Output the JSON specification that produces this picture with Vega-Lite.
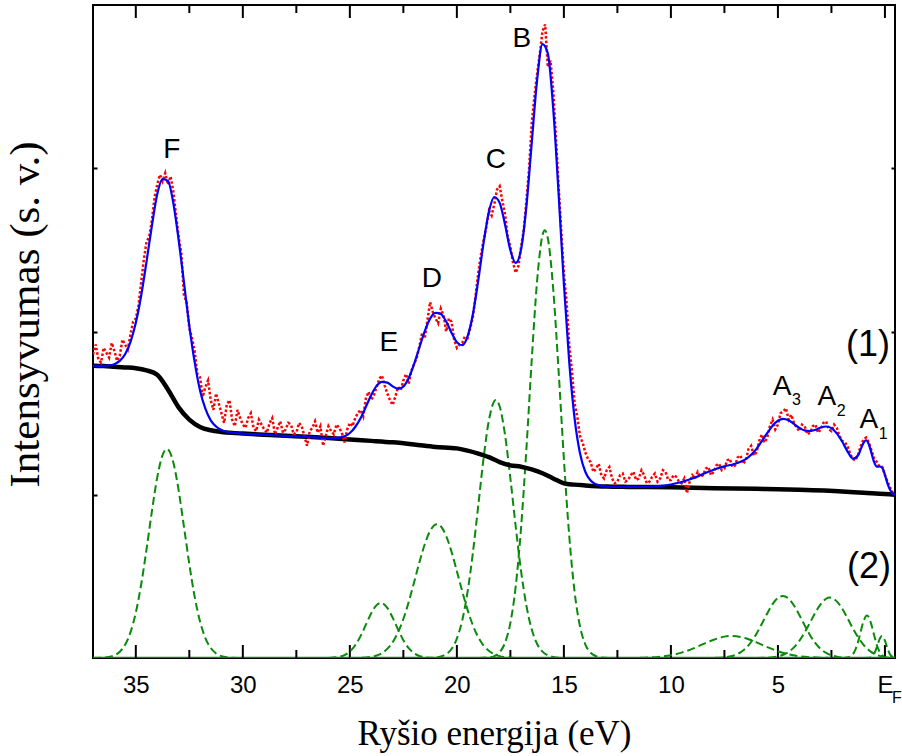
{
"$schema": "https://vega.github.io/schema/vega-lite/v6.json",
"width": 802, "height": 653,
"autosize": {"type": "none"},
"padding": {"left": 93, "top": 5, "right": 7, "bottom": 98},
"background": "white",
"config": {"view": {"stroke": "black", "strokeWidth": 2}},
"datasets": {
"major": [{"E":35},{"E":30},{"E":25},{"E":20},{"E":15},{"E":10},{"E":5},{"E":0}],
"minor": [{"E":32.5},{"E":27.5},{"E":22.5},{"E":17.5},{"E":12.5},{"E":7.5},{"E":2.5}],
"bg": [
{"E":37,"v":1.790},{"E":36.5,"v":1.788},{"E":36,"v":1.784},{"E":35.5,"v":1.780},{"E":35,"v":1.775},{"E":34.5,"v":1.762},{"E":34,"v":1.735},{"E":33.5,"v":1.645},{"E":33,"v":1.535},{"E":32.5,"v":1.46},{"E":32,"v":1.415},{"E":31.5,"v":1.395},{"E":31,"v":1.385},{"E":30.5,"v":1.379},{"E":30,"v":1.375},{"E":29,"v":1.368},{"E":28,"v":1.361},{"E":27,"v":1.355},{"E":26,"v":1.347},{"E":25,"v":1.338},{"E":24,"v":1.330},{"E":23,"v":1.321},{"E":22,"v":1.308},{"E":21,"v":1.293},{"E":20,"v":1.284},{"E":19.5,"v":1.270},{"E":19,"v":1.252},{"E":18.5,"v":1.230},{"E":18,"v":1.200},{"E":17.5,"v":1.180},{"E":17,"v":1.172},{"E":16.5,"v":1.155},{"E":16,"v":1.132},{"E":15.5,"v":1.100},{"E":15,"v":1.070},{"E":14.5,"v":1.062},{"E":14,"v":1.057},{"E":13,"v":1.050},{"E":12,"v":1.048},{"E":10,"v":1.046},{"E":8,"v":1.040},{"E":6,"v":1.036},{"E":4,"v":1.030},{"E":2,"v":1.020},{"E":1,"v":1.012},{"E":0,"v":1.005},{"E":-0.47,"v":1.000}
],
"fit": [
{"E":37,"v":1.790},{"E":36.75,"v":1.789},{"E":36.5,"v":1.790},{"E":36.25,"v":1.792},{"E":36,"v":1.800},{"E":35.75,"v":1.820},{"E":35.5,"v":1.861},{"E":35.25,"v":1.935},{"E":35,"v":2.053},{"E":34.75,"v":2.219},{"E":34.5,"v":2.427},{"E":34.25,"v":2.646},{"E":34,"v":2.840},{"E":33.75,"v":2.933},{"E":33.5,"v":2.923},{"E":33.25,"v":2.789},{"E":33,"v":2.563},{"E":32.75,"v":2.301},{"E":32.5,"v":2.035},{"E":32.25,"v":1.812},{"E":32,"v":1.639},{"E":31.75,"v":1.527},{"E":31.5,"v":1.456},{"E":31.25,"v":1.418},{"E":31,"v":1.396},{"E":30.75,"v":1.386},{"E":30.5,"v":1.380},{"E":30,"v":1.375},{"E":29,"v":1.368},{"E":28,"v":1.361},{"E":27,"v":1.355},{"E":26,"v":1.347},{"E":25.75,"v":1.347},{"E":25.5,"v":1.350},{"E":25.25,"v":1.358},{"E":25,"v":1.378},{"E":24.75,"v":1.415},{"E":24.5,"v":1.469},{"E":24.25,"v":1.539},{"E":24,"v":1.611},{"E":23.75,"v":1.667},{"E":23.5,"v":1.692},{"E":23.25,"v":1.687},{"E":23,"v":1.664},{"E":22.75,"v":1.650},{"E":22.5,"v":1.663},{"E":22.25,"v":1.715},{"E":22,"v":1.800},{"E":21.75,"v":1.902},{"E":21.5,"v":2.002},{"E":21.25,"v":2.079},{"E":21,"v":2.114},{"E":20.75,"v":2.107},{"E":20.5,"v":2.061},{"E":20.25,"v":1.993},{"E":20,"v":1.935},{"E":19.75,"v":1.916},{"E":19.5,"v":1.970},{"E":19.25,"v":2.107},{"E":19,"v":2.313},{"E":18.75,"v":2.544},{"E":18.5,"v":2.735},{"E":18.25,"v":2.824},{"E":18,"v":2.788},{"E":17.75,"v":2.655},{"E":17.5,"v":2.498},{"E":17.25,"v":2.420},{"E":17,"v":2.503},{"E":16.75,"v":2.768},{"E":16.5,"v":3.159},{"E":16.25,"v":3.542},{"E":16,"v":3.760},{"E":15.75,"v":3.703},{"E":15.5,"v":3.368},{"E":15.25,"v":2.852},{"E":15,"v":2.291},{"E":14.75,"v":1.814},{"E":14.5,"v":1.468},{"E":14.25,"v":1.256},{"E":14,"v":1.141},{"E":13.75,"v":1.087},{"E":13.5,"v":1.064},{"E":13.25,"v":1.055},{"E":13,"v":1.050},{"E":12,"v":1.048},{"E":11,"v":1.050},{"E":10.5,"v":1.054},{"E":10,"v":1.063},{"E":9.5,"v":1.078},{"E":9,"v":1.099},{"E":8.5,"v":1.127},{"E":8,"v":1.153},{"E":7.5,"v":1.174},{"E":7,"v":1.190},{"E":6.75,"v":1.202},{"E":6.5,"v":1.218},{"E":6.25,"v":1.245},{"E":6,"v":1.281},{"E":5.75,"v":1.329},{"E":5.5,"v":1.377},{"E":5.25,"v":1.423},{"E":5,"v":1.454},{"E":4.75,"v":1.465},{"E":4.5,"v":1.456},{"E":4.25,"v":1.434},{"E":4,"v":1.410},{"E":3.75,"v":1.394},{"E":3.5,"v":1.390},{"E":3.25,"v":1.398},{"E":3,"v":1.412},{"E":2.75,"v":1.418},{"E":2.5,"v":1.408},{"E":2.25,"v":1.376},{"E":2,"v":1.326},{"E":1.75,"v":1.266},{"E":1.5,"v":1.221},{"E":1.25,"v":1.242},{"E":1.125,"v":1.281},{"E":1,"v":1.318},{"E":0.875,"v":1.334},{"E":0.75,"v":1.308},{"E":0.625,"v":1.253},{"E":0.5,"v":1.198},{"E":0.375,"v":1.172},{"E":0.25,"v":1.173},{"E":0.125,"v":1.165},{"E":0,"v":1.122},{"E":-0.125,"v":1.066},{"E":-0.25,"v":1.027},{"E":-0.375,"v":1.006},{"E":-0.47,"v":1.002}
],
"exp": [
{"E":37,"v":1.86},{"E":36.875,"v":1.92},{"E":36.75,"v":1.83},{"E":36.625,"v":1.81},{"E":36.5,"v":1.90},{"E":36.375,"v":1.87},{"E":36.25,"v":1.84},{"E":36.125,"v":1.93},{"E":36,"v":1.88},{"E":35.875,"v":1.82},{"E":35.75,"v":1.85},{"E":35.625,"v":1.95},{"E":35.5,"v":1.92},{"E":35.375,"v":1.89},{"E":35.25,"v":1.98},{"E":35.125,"v":2.06},{"E":35,"v":2.08},{"E":34.875,"v":2.16},{"E":34.75,"v":2.30},{"E":34.625,"v":2.44},{"E":34.5,"v":2.55},{"E":34.375,"v":2.58},{"E":34.25,"v":2.68},{"E":34.125,"v":2.82},{"E":34,"v":2.90},{"E":33.875,"v":2.96},{"E":33.75,"v":2.92},{"E":33.625,"v":2.97},{"E":33.5,"v":2.90},{"E":33.375,"v":2.95},{"E":33.25,"v":2.86},{"E":33.125,"v":2.72},{"E":33,"v":2.58},{"E":32.875,"v":2.48},{"E":32.75,"v":2.22},{"E":32.625,"v":2.18},{"E":32.5,"v":2.02},{"E":32.375,"v":1.96},{"E":32.25,"v":1.88},{"E":32.125,"v":1.74},{"E":32,"v":1.72},{"E":31.875,"v":1.60},{"E":31.75,"v":1.66},{"E":31.625,"v":1.70},{"E":31.5,"v":1.58},{"E":31.375,"v":1.52},{"E":31.25,"v":1.62},{"E":31.125,"v":1.56},{"E":31,"v":1.50},{"E":30.875,"v":1.44},{"E":30.75,"v":1.55},{"E":30.625,"v":1.58},{"E":30.5,"v":1.46},{"E":30.375,"v":1.42},{"E":30.25,"v":1.52},{"E":30.125,"v":1.47},{"E":30,"v":1.43},{"E":29.875,"v":1.41},{"E":29.75,"v":1.47},{"E":29.625,"v":1.50},{"E":29.5,"v":1.41},{"E":29.375,"v":1.39},{"E":29.25,"v":1.46},{"E":29.125,"v":1.43},{"E":29,"v":1.40},{"E":28.875,"v":1.38},{"E":28.75,"v":1.44},{"E":28.625,"v":1.47},{"E":28.5,"v":1.37},{"E":28.375,"v":1.41},{"E":28.25,"v":1.45},{"E":28.125,"v":1.38},{"E":28,"v":1.40},{"E":27.875,"v":1.44},{"E":27.75,"v":1.43},{"E":27.625,"v":1.37},{"E":27.5,"v":1.38},{"E":27.375,"v":1.44},{"E":27.25,"v":1.42},{"E":27.125,"v":1.36},{"E":27,"v":1.30},{"E":26.875,"v":1.39},{"E":26.75,"v":1.41},{"E":26.625,"v":1.45},{"E":26.5,"v":1.38},{"E":26.375,"v":1.42},{"E":26.25,"v":1.30},{"E":26.125,"v":1.36},{"E":26,"v":1.42},{"E":25.875,"v":1.39},{"E":25.75,"v":1.37},{"E":25.625,"v":1.43},{"E":25.5,"v":1.41},{"E":25.375,"v":1.38},{"E":25.25,"v":1.32},{"E":25.125,"v":1.40},{"E":25,"v":1.44},{"E":24.875,"v":1.42},{"E":24.75,"v":1.47},{"E":24.625,"v":1.50},{"E":24.5,"v":1.52},{"E":24.375,"v":1.48},{"E":24.25,"v":1.59},{"E":24.125,"v":1.63},{"E":24,"v":1.58},{"E":23.875,"v":1.61},{"E":23.75,"v":1.66},{"E":23.625,"v":1.71},{"E":23.5,"v":1.73},{"E":23.375,"v":1.67},{"E":23.25,"v":1.62},{"E":23.125,"v":1.58},{"E":23,"v":1.55},{"E":22.875,"v":1.60},{"E":22.75,"v":1.66},{"E":22.625,"v":1.64},{"E":22.5,"v":1.70},{"E":22.375,"v":1.74},{"E":22.25,"v":1.68},{"E":22.125,"v":1.76},{"E":22,"v":1.80},{"E":21.875,"v":1.84},{"E":21.75,"v":1.91},{"E":21.625,"v":1.99},{"E":21.5,"v":1.96},{"E":21.375,"v":2.07},{"E":21.25,"v":2.18},{"E":21.125,"v":2.12},{"E":21,"v":2.08},{"E":20.875,"v":2.05},{"E":20.75,"v":2.14},{"E":20.625,"v":2.10},{"E":20.5,"v":2.00},{"E":20.375,"v":2.08},{"E":20.25,"v":2.06},{"E":20.125,"v":1.95},{"E":20,"v":1.90},{"E":19.875,"v":1.92},{"E":19.75,"v":1.93},{"E":19.625,"v":1.97},{"E":19.5,"v":1.96},{"E":19.375,"v":2.02},{"E":19.25,"v":2.09},{"E":19.125,"v":2.22},{"E":19,"v":2.36},{"E":18.875,"v":2.47},{"E":18.75,"v":2.56},{"E":18.625,"v":2.64},{"E":18.5,"v":2.74},{"E":18.375,"v":2.71},{"E":18.25,"v":2.78},{"E":18.125,"v":2.87},{"E":18,"v":2.89},{"E":17.875,"v":2.80},{"E":17.75,"v":2.72},{"E":17.625,"v":2.58},{"E":17.5,"v":2.52},{"E":17.375,"v":2.42},{"E":17.25,"v":2.36},{"E":17.125,"v":2.40},{"E":17,"v":2.52},{"E":16.875,"v":2.62},{"E":16.75,"v":2.80},{"E":16.625,"v":3.00},{"E":16.5,"v":3.28},{"E":16.375,"v":3.44},{"E":16.25,"v":3.58},{"E":16.125,"v":3.70},{"E":16,"v":3.84},{"E":15.875,"v":3.88},{"E":15.75,"v":3.62},{"E":15.625,"v":3.66},{"E":15.5,"v":3.48},{"E":15.375,"v":3.20},{"E":15.25,"v":2.90},{"E":15.125,"v":2.62},{"E":15,"v":2.36},{"E":14.875,"v":2.18},{"E":14.75,"v":1.92},{"E":14.625,"v":1.76},{"E":14.5,"v":1.56},{"E":14.375,"v":1.48},{"E":14.25,"v":1.36},{"E":14.125,"v":1.32},{"E":14,"v":1.26},{"E":13.875,"v":1.22},{"E":13.75,"v":1.20},{"E":13.625,"v":1.14},{"E":13.5,"v":1.16},{"E":13.375,"v":1.19},{"E":13.25,"v":1.12},{"E":13.125,"v":1.10},{"E":13,"v":1.15},{"E":12.875,"v":1.17},{"E":12.75,"v":1.10},{"E":12.625,"v":1.07},{"E":12.5,"v":1.08},{"E":12.375,"v":1.12},{"E":12.25,"v":1.13},{"E":12.125,"v":1.08},{"E":12,"v":1.09},{"E":11.875,"v":1.12},{"E":11.75,"v":1.14},{"E":11.625,"v":1.09},{"E":11.5,"v":1.10},{"E":11.375,"v":1.15},{"E":11.25,"v":1.12},{"E":11.125,"v":1.07},{"E":11,"v":1.08},{"E":10.875,"v":1.11},{"E":10.75,"v":1.13},{"E":10.625,"v":1.08},{"E":10.5,"v":1.10},{"E":10.375,"v":1.15},{"E":10.25,"v":1.14},{"E":10.125,"v":1.09},{"E":10,"v":1.09},{"E":9.875,"v":1.12},{"E":9.75,"v":1.11},{"E":9.625,"v":1.08},{"E":9.5,"v":1.07},{"E":9.375,"v":1.10},{"E":9.25,"v":1.01},{"E":9.125,"v":1.08},{"E":9,"v":1.12},{"E":8.875,"v":1.10},{"E":8.75,"v":1.14},{"E":8.625,"v":1.11},{"E":8.5,"v":1.12},{"E":8.375,"v":1.16},{"E":8.25,"v":1.17},{"E":8.125,"v":1.12},{"E":8,"v":1.14},{"E":7.875,"v":1.18},{"E":7.75,"v":1.19},{"E":7.625,"v":1.15},{"E":7.5,"v":1.16},{"E":7.375,"v":1.21},{"E":7.25,"v":1.22},{"E":7.125,"v":1.17},{"E":7,"v":1.18},{"E":6.875,"v":1.23},{"E":6.75,"v":1.24},{"E":6.625,"v":1.19},{"E":6.5,"v":1.21},{"E":6.375,"v":1.28},{"E":6.25,"v":1.30},{"E":6.125,"v":1.24},{"E":6,"v":1.26},{"E":5.875,"v":1.33},{"E":5.75,"v":1.37},{"E":5.625,"v":1.32},{"E":5.5,"v":1.35},{"E":5.375,"v":1.42},{"E":5.25,"v":1.46},{"E":5.125,"v":1.40},{"E":5,"v":1.43},{"E":4.875,"v":1.50},{"E":4.75,"v":1.51},{"E":4.625,"v":1.53},{"E":4.5,"v":1.46},{"E":4.375,"v":1.49},{"E":4.25,"v":1.44},{"E":4.125,"v":1.41},{"E":4,"v":1.39},{"E":3.875,"v":1.43},{"E":3.75,"v":1.42},{"E":3.625,"v":1.37},{"E":3.5,"v":1.38},{"E":3.375,"v":1.42},{"E":3.25,"v":1.43},{"E":3.125,"v":1.38},{"E":3,"v":1.40},{"E":2.875,"v":1.44},{"E":2.75,"v":1.45},{"E":2.625,"v":1.40},{"E":2.5,"v":1.39},{"E":2.375,"v":1.43},{"E":2.25,"v":1.41},{"E":2.125,"v":1.36},{"E":2,"v":1.33},{"E":1.875,"v":1.32},{"E":1.75,"v":1.30},{"E":1.625,"v":1.25},{"E":1.5,"v":1.22},{"E":1.375,"v":1.21},{"E":1.25,"v":1.25},{"E":1.125,"v":1.30},{"E":1,"v":1.34},{"E":0.875,"v":1.35},{"E":0.75,"v":1.32},{"E":0.625,"v":1.27},{"E":0.5,"v":1.22},{"E":0.375,"v":1.20},{"E":0.25,"v":1.17},{"E":0.125,"v":1.17},{"E":0,"v":1.12},{"E":-0.125,"v":1.08},{"E":-0.25,"v":1.04},{"E":-0.375,"v":1.01},{"E":-0.47,"v":1.00}
],
"comps": [
{"c":"F","E":37,"v":0},{"c":"F","E":36.5,"v":0.002},{"c":"F","E":36.25,"v":0.006},{"c":"F","E":36,"v":0.016},{"c":"F","E":35.75,"v":0.038},{"c":"F","E":35.5,"v":0.081},{"c":"F","E":35.25,"v":0.157},{"c":"F","E":35,"v":0.278},{"c":"F","E":34.75,"v":0.450},{"c":"F","E":34.5,"v":0.665},{"c":"F","E":34.25,"v":0.897},{"c":"F","E":34,"v":1.105},{"c":"F","E":33.75,"v":1.243},{"c":"F","E":33.55,"v":1.28},{"c":"F","E":33.25,"v":1.199},{"c":"F","E":33,"v":1.028},{"c":"F","E":32.75,"v":0.804},{"c":"F","E":32.5,"v":0.575},{"c":"F","E":32.25,"v":0.375},{"c":"F","E":32,"v":0.224},{"c":"F","E":31.75,"v":0.122},{"c":"F","E":31.5,"v":0.061},{"c":"F","E":31.25,"v":0.028},{"c":"F","E":31,"v":0.011},{"c":"F","E":30.75,"v":0.004},{"c":"F","E":30.25,"v":0},
{"c":"E","E":26,"v":0},{"c":"E","E":25.5,"v":0.007},{"c":"E","E":25.25,"v":0.018},{"c":"E","E":25,"v":0.040},{"c":"E","E":24.75,"v":0.078},{"c":"E","E":24.5,"v":0.134},{"c":"E","E":24.25,"v":0.204},{"c":"E","E":24,"v":0.274},{"c":"E","E":23.75,"v":0.324},{"c":"E","E":23.55,"v":0.337},{"c":"E","E":23.25,"v":0.307},{"c":"E","E":23,"v":0.247},{"c":"E","E":22.75,"v":0.175},{"c":"E","E":22.5,"v":0.109},{"c":"E","E":22.25,"v":0.060},{"c":"E","E":22,"v":0.029},{"c":"E","E":21.75,"v":0.012},{"c":"E","E":21.5,"v":0.005},{"c":"E","E":21,"v":0},
{"c":"D","E":25,"v":0},{"c":"D","E":24.5,"v":0.001},{"c":"D","E":24,"v":0.007},{"c":"D","E":23.75,"v":0.015},{"c":"D","E":23.5,"v":0.030},{"c":"D","E":23.25,"v":0.056},{"c":"D","E":23,"v":0.096},{"c":"D","E":22.75,"v":0.157},{"c":"D","E":22.5,"v":0.239},{"c":"D","E":22.25,"v":0.343},{"c":"D","E":22,"v":0.463},{"c":"D","E":21.75,"v":0.586},{"c":"D","E":21.5,"v":0.697},{"c":"D","E":21.25,"v":0.779},{"c":"D","E":20.93,"v":0.82},{"c":"D","E":20.75,"v":0.807},{"c":"D","E":20.5,"v":0.748},{"c":"D","E":20.25,"v":0.651},{"c":"D","E":20,"v":0.532},{"c":"D","E":19.75,"v":0.409},{"c":"D","E":19.5,"v":0.295},{"c":"D","E":19.25,"v":0.200},{"c":"D","E":19,"v":0.127},{"c":"D","E":18.75,"v":0.076},{"c":"D","E":18.5,"v":0.043},{"c":"D","E":18.25,"v":0.023},{"c":"D","E":18,"v":0.011},{"c":"D","E":17.75,"v":0.005},{"c":"D","E":17.25,"v":0},
{"c":"C","E":21.5,"v":0},{"c":"C","E":21,"v":0.003},{"c":"C","E":20.75,"v":0.009},{"c":"C","E":20.5,"v":0.024},{"c":"C","E":20.25,"v":0.055},{"c":"C","E":20,"v":0.119},{"c":"C","E":19.75,"v":0.230},{"c":"C","E":19.5,"v":0.405},{"c":"C","E":19.25,"v":0.646},{"c":"C","E":19,"v":0.934},{"c":"C","E":18.75,"v":1.226},{"c":"C","E":18.5,"v":1.458},{"c":"C","E":18.18,"v":1.58},{"c":"C","E":18,"v":1.541},{"c":"C","E":17.75,"v":1.367},{"c":"C","E":17.5,"v":1.101},{"c":"C","E":17.25,"v":0.804},{"c":"C","E":17,"v":0.532},{"c":"C","E":16.75,"v":0.320},{"c":"C","E":16.5,"v":0.174},{"c":"C","E":16.25,"v":0.086},{"c":"C","E":16,"v":0.039},{"c":"C","E":15.75,"v":0.016},{"c":"C","E":15.5,"v":0.006},{"c":"C","E":15,"v":0},
{"c":"B","E":19,"v":0},{"c":"B","E":18.5,"v":0.004},{"c":"B","E":18.25,"v":0.012},{"c":"B","E":18,"v":0.036},{"c":"B","E":17.75,"v":0.093},{"c":"B","E":17.5,"v":0.215},{"c":"B","E":17.25,"v":0.440},{"c":"B","E":17,"v":0.799},{"c":"B","E":16.75,"v":1.284},{"c":"B","E":16.5,"v":1.830},{"c":"B","E":16.25,"v":2.312},{"c":"B","E":16,"v":2.589},{"c":"B","E":15.89,"v":2.62},{"c":"B","E":15.75,"v":2.571},{"c":"B","E":15.5,"v":2.262},{"c":"B","E":15.25,"v":1.765},{"c":"B","E":15,"v":1.221},{"c":"B","E":14.75,"v":0.748},{"c":"B","E":14.5,"v":0.406},{"c":"B","E":14.25,"v":0.196},{"c":"B","E":14,"v":0.084},{"c":"B","E":13.75,"v":0.032},{"c":"B","E":13.5,"v":0.011},{"c":"B","E":13.25,"v":0.003},{"c":"B","E":12.75,"v":0},
{"c":"X","E":12,"v":0},{"c":"X","E":11,"v":0.003},{"c":"X","E":10.5,"v":0.008},{"c":"X","E":10,"v":0.017},{"c":"X","E":9.5,"v":0.033},{"c":"X","E":9,"v":0.056},{"c":"X","E":8.5,"v":0.085},{"c":"X","E":8,"v":0.112},{"c":"X","E":7.5,"v":0.131},{"c":"X","E":7.15,"v":0.135},{"c":"X","E":6.5,"v":0.121},{"c":"X","E":6,"v":0.096},{"c":"X","E":5.5,"v":0.067},{"c":"X","E":5,"v":0.041},{"c":"X","E":4.5,"v":0.023},{"c":"X","E":4,"v":0.011},{"c":"X","E":3.5,"v":0.005},{"c":"X","E":3,"v":0.002},{"c":"X","E":2.5,"v":0},
{"c":"A3","E":8.5,"v":0},{"c":"A3","E":8,"v":0.001},{"c":"A3","E":7.5,"v":0.004},{"c":"A3","E":7,"v":0.018},{"c":"A3","E":6.75,"v":0.034},{"c":"A3","E":6.5,"v":0.060},{"c":"A3","E":6.25,"v":0.098},{"c":"A3","E":6,"v":0.149},{"c":"A3","E":5.75,"v":0.210},{"c":"A3","E":5.5,"v":0.273},{"c":"A3","E":5.25,"v":0.330},{"c":"A3","E":5,"v":0.368},{"c":"A3","E":4.77,"v":0.380},{"c":"A3","E":4.5,"v":0.363},{"c":"A3","E":4.25,"v":0.322},{"c":"A3","E":4,"v":0.264},{"c":"A3","E":3.75,"v":0.200},{"c":"A3","E":3.5,"v":0.140},{"c":"A3","E":3.25,"v":0.091},{"c":"A3","E":3,"v":0.055},{"c":"A3","E":2.75,"v":0.031},{"c":"A3","E":2.5,"v":0.016},{"c":"A3","E":2.25,"v":0.008},{"c":"A3","E":2,"v":0.003},{"c":"A3","E":1.5,"v":0},
{"c":"A2","E":6,"v":0},{"c":"A2","E":5.5,"v":0.002},{"c":"A2","E":5.25,"v":0.004},{"c":"A2","E":5,"v":0.010},{"c":"A2","E":4.75,"v":0.020},{"c":"A2","E":4.5,"v":0.037},{"c":"A2","E":4.25,"v":0.065},{"c":"A2","E":4,"v":0.105},{"c":"A2","E":3.75,"v":0.157},{"c":"A2","E":3.5,"v":0.217},{"c":"A2","E":3.25,"v":0.278},{"c":"A2","E":3,"v":0.330},{"c":"A2","E":2.75,"v":0.363},{"c":"A2","E":2.57,"v":0.370},{"c":"A2","E":2.25,"v":0.347},{"c":"A2","E":2,"v":0.303},{"c":"A2","E":1.75,"v":0.244},{"c":"A2","E":1.5,"v":0.182},{"c":"A2","E":1.25,"v":0.126},{"c":"A2","E":1,"v":0.081},{"c":"A2","E":0.75,"v":0.048},{"c":"A2","E":0.5,"v":0.026},{"c":"A2","E":0.25,"v":0.013},{"c":"A2","E":0,"v":0.006},{"c":"A2","E":-0.25,"v":0.003},{"c":"A2","E":-0.47,"v":0.001},
{"c":"A1","E":2,"v":0},{"c":"A1","E":1.75,"v":0.003},{"c":"A1","E":1.5,"v":0.023},{"c":"A1","E":1.375,"v":0.053},{"c":"A1","E":1.25,"v":0.102},{"c":"A1","E":1.125,"v":0.166},{"c":"A1","E":1,"v":0.225},{"c":"A1","E":0.84,"v":0.26},{"c":"A1","E":0.75,"v":0.249},{"c":"A1","E":0.625,"v":0.201},{"c":"A1","E":0.5,"v":0.137},{"c":"A1","E":0.375,"v":0.078},{"c":"A1","E":0.25,"v":0.038},{"c":"A1","E":0.125,"v":0.015},{"c":"A1","E":0,"v":0.005},{"c":"A1","E":-0.25,"v":0.001},{"c":"A1","E":-0.47,"v":0},
{"c":"A0","E":1,"v":0},{"c":"A0","E":0.75,"v":0.001},{"c":"A0","E":0.625,"v":0.007},{"c":"A0","E":0.5,"v":0.027},{"c":"A0","E":0.375,"v":0.068},{"c":"A0","E":0.25,"v":0.116},{"c":"A0","E":0.14,"v":0.135},{"c":"A0","E":0,"v":0.106},{"c":"A0","E":-0.125,"v":0.056},{"c":"A0","E":-0.25,"v":0.020},{"c":"A0","E":-0.375,"v":0.005},{"c":"A0","E":-0.47,"v":0.001}
],
"base": [{"E":37,"v":0},{"E":-0.47,"v":0}],
"labels": [{"t":"F","E":33.32,"v":3.11},{"t":"B","E":16.96,"v":3.79},{"t":"C","E":18.18,"v":3.05},{"t":"D","E":21.17,"v":2.32},{"t":"E","E":23.18,"v":1.93},{"t":"A","E":4.81,"v":1.66},{"t":"A","E":2.71,"v":1.60},{"t":"A","E":0.75,"v":1.46}],
"subs": [{"t":"3","E":4.14,"v":1.58},{"t":"2","E":2.04,"v":1.51},{"t":"1","E":0.08,"v":1.37},{"t":"F","E":-0.56,"v":-0.245}],
"nums": [{"t":"(1)","E":0.79,"v":1.92},{"t":"(2)","E":0.75,"v":0.557}]
},
"encoding": {
  "x": {"field": "E", "type": "quantitative", "scale": {"domain": [-0.47, 37], "reverse": true, "nice": false, "zero": false}}
},
"layer": [
{"data": {"name": "base"}, "mark": {"type": "line", "color": "#0a8a0a", "strokeWidth": 2.5, "clip": true},
 "encoding": {
  "x": {"field": "E", "type": "quantitative", "scale": {"domain": [-0.47, 37], "reverse": true, "nice": false, "zero": false},
   "axis": {"orient": "bottom", "values": [35,30,25,20,15,10,5,0],
    "labelExpr": "datum.value == 0 ? 'E' : datum.label",
    "ticks": false, "domain": false, "grid": false,
    "labelFont": "Liberation Sans", "labelFontSize": 24, "labelColor": "black", "labelPadding": 15, "labelFlush": false, "labelOverlap": false,
    "title": "Ryšio energija (eV)", "titleFont": "Liberation Serif", "titleFontSize": 35, "titleFontWeight": "normal", "titleColor": "black",
    "titleBaseline": "alphabetic", "titleY": 86}},
  "y": {"field": "v", "type": "quantitative", "scale": {"domain": [0, 4], "nice": false, "zero": false},
   "axis": {"orient": "left", "values": [1,2,3], "ticks": false, "labels": false, "domain": false,
    "grid": true, "gridColor": "black", "gridOpacity": 1, "gridWidth": 2, "gridDash": [4, 794, 4, 2000],
    "title": "Intensyvumas (s. v.)", "titleFont": "Liberation Serif", "titleFontSize": 43, "titleFontWeight": "normal", "titleColor": "black",
    "titleBaseline": "alphabetic", "titleX": -55, "titleY": 309}}
 }},
{"data": {"name": "major"}, "mark": {"type": "tick", "orient": "vertical", "color": "black", "opacity": 1, "size": 13, "thickness": 2},
 "encoding": {"x": {"field": "E", "type": "quantitative"}, "y": {"datum": 0.0398}}},
{"data": {"name": "major"}, "mark": {"type": "tick", "orient": "vertical", "color": "black", "opacity": 1, "size": 13, "thickness": 2},
 "encoding": {"x": {"field": "E", "type": "quantitative"}, "y": {"datum": 3.9602}}},
{"data": {"name": "minor"}, "mark": {"type": "tick", "orient": "vertical", "color": "black", "opacity": 1, "size": 8, "thickness": 2},
 "encoding": {"x": {"field": "E", "type": "quantitative"}, "y": {"datum": 0.0245}}},
{"data": {"name": "minor"}, "mark": {"type": "tick", "orient": "vertical", "color": "black", "opacity": 1, "size": 8, "thickness": 2},
 "encoding": {"x": {"field": "E", "type": "quantitative"}, "y": {"datum": 3.9755}}},
{"data": {"name": "comps"}, "mark": {"type": "line", "color": "#0a8a0a", "strokeWidth": 2, "strokeDash": [8, 4], "interpolate": "monotone", "clip": true},
 "encoding": {"y": {"field": "v", "type": "quantitative"}, "detail": {"field": "c", "type": "nominal"}}},
{"data": {"name": "bg"}, "mark": {"type": "line", "color": "black", "strokeWidth": 4.5, "interpolate": "monotone", "clip": true},
 "encoding": {"y": {"field": "v", "type": "quantitative"}}},
{"data": {"name": "exp"}, "mark": {"type": "line", "color": "#ff0000", "strokeWidth": 2.5, "strokeDash": [2.5, 2], "clip": true},
 "encoding": {"y": {"field": "v", "type": "quantitative"}}},
{"data": {"name": "fit"}, "mark": {"type": "line", "color": "#0000ff", "strokeWidth": 2.2, "interpolate": "monotone", "clip": true},
 "encoding": {"y": {"field": "v", "type": "quantitative"}}},
{"data": {"name": "labels"}, "mark": {"type": "text", "font": "Liberation Sans", "fontSize": 28, "color": "black", "align": "center", "baseline": "middle"},
 "encoding": {"y": {"field": "v", "type": "quantitative"}, "text": {"field": "t"}}},
{"data": {"name": "subs"}, "mark": {"type": "text", "font": "Liberation Sans", "fontSize": 16, "color": "black", "align": "center", "baseline": "middle"},
 "encoding": {"y": {"field": "v", "type": "quantitative"}, "text": {"field": "t"}}},
{"data": {"name": "nums"}, "mark": {"type": "text", "font": "Liberation Sans", "fontSize": 36, "color": "black", "align": "center", "baseline": "middle"},
 "encoding": {"y": {"field": "v", "type": "quantitative"}, "text": {"field": "t"}}}
]
}
